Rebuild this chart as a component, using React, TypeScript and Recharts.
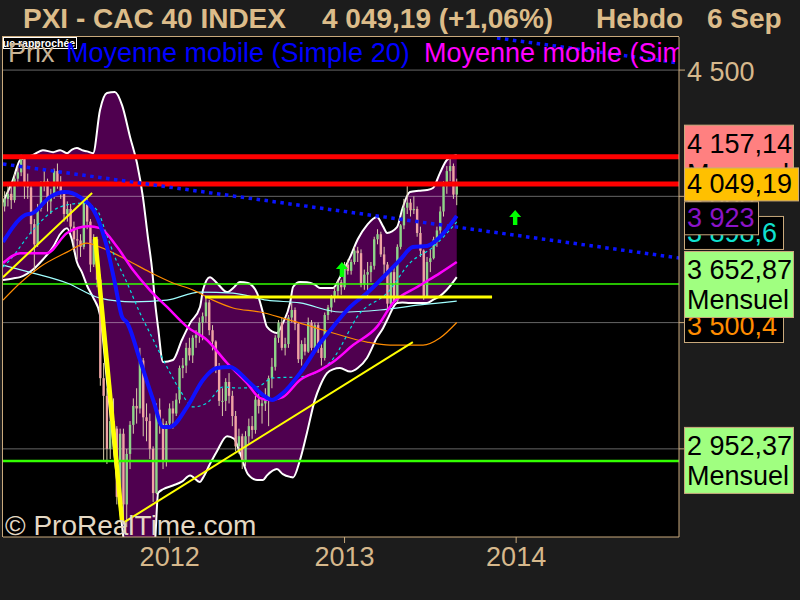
import React from 'react';
import {
  ComposedChart,
  XAxis,
  YAxis,
  Area,
  Line,
  Bar,
  ReferenceLine,
  ReferenceDot,
} from 'recharts';

const TAN = '#c9a97c';
const FONT = "'Liberation Sans', Arial, sans-serif";

// CAC 40 weekly candles [open, high, low, close], first bar = mid-January 2011
const candles = [
  [3960, 4020, 3940, 3990], [3990, 4040, 3960, 4010], [4010, 4050, 3950, 3985], [3985, 4090, 3975, 4070],
  [4070, 4120, 4040, 4095], [4095, 4165, 4080, 4150], [4150, 4160, 3990, 4040], [4040, 4090, 3990, 4035],
  [4035, 4050, 3850, 3890], [3890, 3910, 3700, 3810], [3810, 3970, 3800, 3950], [3950, 4060, 3940, 4040],
  [4040, 4100, 4020, 4060], [4060, 4070, 3940, 3980], [3980, 4030, 3930, 4000], [4000, 4110, 3990, 4100],
  [4100, 4130, 4030, 4050], [4050, 4080, 3990, 4010], [4010, 4020, 3900, 3930], [3930, 3980, 3900, 3950],
  [3950, 3970, 3860, 3880], [3880, 3900, 3780, 3830], [3830, 3870, 3750, 3825], [3825, 3850, 3760, 3800],
  [3800, 3995, 3790, 3980], [3980, 3990, 3870, 3900], [3900, 3910, 3700, 3730], [3730, 3850, 3720, 3830],
  [3830, 3840, 3640, 3670], [3670, 3690, 3250, 3280], [3280, 3340, 2950, 3210], [3210, 3240, 2940, 3000],
  [3000, 3140, 2960, 3110], [3110, 3200, 3050, 3080], [3080, 3090, 2780, 2810], [2810, 3080, 2750, 3060],
  [3060, 3080, 2700, 2780], [2780, 3000, 2690, 2980], [2980, 3110, 2920, 3095], [3095, 3200, 3060, 3170],
  [3170, 3240, 3100, 3160], [3160, 3400, 3140, 3350], [3350, 3360, 3050, 3125], [3125, 3180, 3030, 3110],
  [3110, 3140, 2960, 3000], [3000, 3010, 2790, 2825], [2825, 3180, 2820, 3155], [3155, 3200, 3060, 3100],
  [3100, 3120, 2920, 2950], [2950, 3110, 2930, 3100], [3100, 3180, 3080, 3160], [3160, 3190, 3080, 3140],
  [3140, 3220, 3130, 3195], [3195, 3330, 3180, 3320], [3320, 3360, 3280, 3330], [3330, 3420, 3300, 3400],
  [3400, 3440, 3350, 3370], [3370, 3450, 3340, 3440], [3440, 3470, 3400, 3450], [3450, 3520, 3420, 3500],
  [3500, 3540, 3430, 3525], [3525, 3600, 3500, 3580], [3580, 3590, 3450, 3470], [3470, 3490, 3390, 3425],
  [3425, 3430, 3300, 3320], [3320, 3340, 3170, 3190], [3190, 3240, 3130, 3190], [3190, 3280, 3150, 3265],
  [3265, 3300, 3180, 3210], [3210, 3230, 3090, 3130], [3130, 3150, 2990, 3010], [3010, 3080, 2980, 3050],
  [3050, 3060, 2920, 2950], [2950, 3070, 2930, 3050], [3050, 3120, 3020, 3090], [3090, 3130, 3040, 3075],
  [3075, 3210, 3060, 3195], [3195, 3220, 3140, 3170], [3170, 3200, 3100, 3180], [3180, 3240, 3150, 3195],
  [3195, 3290, 3090, 3280], [3280, 3360, 3240, 3325], [3325, 3450, 3310, 3440], [3440, 3510, 3420, 3500],
  [3500, 3520, 3390, 3400], [3400, 3440, 3370, 3415], [3415, 3530, 3400, 3520], [3520, 3580, 3500, 3550],
  [3550, 3560, 3470, 3495], [3495, 3500, 3340, 3355], [3355, 3430, 3330, 3415], [3415, 3440, 3370, 3385],
  [3385, 3520, 3380, 3500], [3500, 3510, 3390, 3400], [3400, 3500, 3390, 3490], [3490, 3500, 3380, 3400],
  [3400, 3420, 3330, 3360], [3360, 3540, 3350, 3530], [3530, 3570, 3510, 3560], [3560, 3610, 3540, 3600],
  [3600, 3640, 3580, 3625], [3625, 3670, 3600, 3660], [3660, 3670, 3610, 3640], [3640, 3740, 3630, 3730],
  [3730, 3750, 3690, 3705], [3705, 3750, 3690, 3740], [3740, 3800, 3730, 3785], [3785, 3800, 3740, 3775],
  [3775, 3790, 3640, 3650], [3650, 3710, 3630, 3690], [3690, 3740, 3600, 3700], [3700, 3740, 3660, 3725],
  [3725, 3840, 3710, 3830], [3830, 3870, 3810, 3850], [3850, 3860, 3760, 3770], [3770, 3800, 3690, 3730],
  [3730, 3740, 3550, 3575], [3575, 3710, 3570, 3700], [3700, 3720, 3580, 3585], [3585, 3810, 3580, 3800],
  [3800, 3890, 3790, 3885], [3885, 3990, 3870, 3955], [3955, 4045, 3930, 3975], [3975, 3990, 3920, 3945],
  [3945, 4000, 3930, 3950], [3950, 3960, 3840, 3855], [3855, 3880, 3760, 3785], [3785, 3790, 3590, 3605],
  [3605, 3760, 3600, 3740], [3740, 3790, 3700, 3755], [3755, 3840, 3750, 3830], [3830, 3880, 3800, 3865],
  [3865, 3960, 3850, 3940], [3940, 4060, 3920, 4040], [4040, 4120, 4010, 4100], [4100, 4155, 4060, 4120],
  [4120, 4130, 3990, 4007], [4007, 4070, 3965, 4049.19],
];

const yearTicks = [50, 103, 155];
const yearLabels = ['2012', '2013', '2014'];
const priceTicks = [3000, 3500, 4000, 4500];

// Bollinger envelope [bar, lower, upper]
const bollinger = [
  [-0.5, 3669, 3977], [2.5, 3675, 4065], [4.7, 3680, 4144], [8.6, 3710, 4164], [11.6, 3750, 4183],
  [14.7, 3800, 4175], [16.8, 3850, 4183], [18.9, 3874, 4171], [20.4, 3827, 4185], [21.9, 3740, 4191],
  [23.4, 3700, 4183], [25, 3645, 4178], [26.8, 3600, 4171], [28.9, 3530, 4342], [31, 3270, 4409],
  [33.4, 2960, 4413], [35.6, 2691, 4360], [38, 2460, 4235], [40.1, 2380, 4132], [41.9, 2390, 3997],
  [43.4, 2460, 3839], [44.7, 2560, 3708], [45.6, 2639, 3578], [46.5, 2825, 3480], [48, 2840, 3344],
  [51, 2855, 3352], [53.7, 2870, 3431], [56.2, 2895, 3498], [59.2, 2869, 3562], [60.1, 2885, 3629],
  [62.2, 2940, 3680], [64.3, 2990, 3657], [67.4, 3050, 3621], [69.5, 3040, 3640], [71.3, 2984, 3661],
  [73.7, 2900, 3657], [76.5, 2877, 3617], [78.3, 2877, 3538], [79.5, 2895, 3483], [82.5, 2920, 3459],
  [84.3, 2900, 3498], [86.5, 2889, 3578], [87.4, 2887, 3641], [89.5, 2956, 3661], [91.6, 3063, 3660],
  [94, 3194, 3650], [95.6, 3250, 3637], [97.7, 3300, 3637], [99.5, 3315, 3637], [101.6, 3320, 3680],
  [104.7, 3306, 3760], [107, 3320, 3830], [109.8, 3360, 3886], [112.8, 3440, 3918], [114.7, 3479, 3880],
  [115.9, 3510, 3855], [118.9, 3578, 3878], [120.5, 3580, 3950], [122.8, 3578, 4017], [125.5, 3578, 4022],
  [128, 3578, 4025], [129.8, 3590, 4033], [131.9, 3605, 4092], [134, 3630, 4144], [137, 3680, 4164],
];

// moving averages, [bar, value]
const ma20 = [
  [-0.5, 3819], [6.2, 3926], [8.6, 3934], [13.7, 3997], [18.3, 4017], [22.8, 3997], [28, 3918],
  [31, 3799], [33.4, 3657], [35.6, 3522], [37.1, 3500], [41, 3352], [45, 3194], [48, 3087],
  [50.1, 3087], [55.3, 3166], [60.1, 3273], [64.3, 3320], [68.3, 3324], [73.4, 3273], [78.3, 3213],
  [81, 3194], [84.3, 3221], [89.5, 3300], [95.6, 3419], [99.5, 3483], [104.7, 3562], [109.8, 3617],
  [115.9, 3696], [119.8, 3748], [123.7, 3799], [128, 3803], [131.9, 3839], [137, 3923],
];
const ma50 = [
  [-0.5, 3736], [4.7, 3775], [12.8, 3775], [18.9, 3855], [25.3, 3882], [28.9, 3874], [34.1, 3799],
  [38.9, 3708], [44, 3629], [49.2, 3562], [55.3, 3483], [61.3, 3431], [67.4, 3340], [73.4, 3261],
  [77.4, 3201], [80.4, 3194], [84.3, 3205], [89.5, 3273], [95.6, 3312], [99.5, 3344], [105.6, 3411],
  [112.8, 3483], [117.7, 3578], [125, 3641], [131.9, 3696], [137, 3740],
];
const ma30 = [
  [-0.5, 3720], [1.6, 3748], [8.6, 3867], [16.8, 3958], [23.7, 3973], [28, 3946], [30.4, 3867],
  [33.4, 3760], [37.1, 3657], [41, 3538], [44, 3459], [49.2, 3324], [53.1, 3233], [57.1, 3166],
  [61.3, 3182], [66.2, 3245], [71.3, 3241], [76.5, 3245], [81.3, 3281], [89.5, 3285], [94.6, 3304],
  [99.2, 3352], [107.7, 3538], [115.9, 3617], [122.8, 3736], [129.8, 3799], [137, 3898.6],
];
const ma100 = [
  [-0.5, 3589], [4.7, 3657], [10.7, 3720], [18.9, 3779], [24.9, 3815], [28.9, 3799], [37.1, 3748],
  [44, 3700], [51, 3657], [57.1, 3629], [63.1, 3589], [69.2, 3558], [77.4, 3542], [84.3, 3518],
  [89.5, 3498], [99.5, 3459], [109.8, 3423], [116.8, 3411], [126.8, 3411], [131.9, 3439], [137, 3500.4],
];
const ma200 = [
  [-0.5, 3728], [8.6, 3696], [18.9, 3657], [28.9, 3597], [38.9, 3582], [49.2, 3589], [59.2, 3621],
  [69.2, 3617], [79.5, 3589], [89.5, 3578], [101.6, 3542], [113.7, 3550], [125.9, 3570], [137, 3585],
];

const resistances = [4157.14, 4049.19];
const supports = [3652.87, 2952.37];

// hand-drawn studies, [[bar, price], [bar, price]]
const channelLow = [[-0.5, 4128], [204.35, 3756]];
const channelHigh = [[149.2, 4627], [204.35, 4528]];
const riseLeft = [[-0.5, 3680], [26.5, 4013]];
const crashLine = [[27.4, 3839], [35.6, 2710]];
const supportRise = [[35.9, 2707], [123.7, 3423]];
const breakoutLevel = [[60.7, 3601], [147.7, 3601]];
const signalArrows = [[102.2, 3708], [154.7, 3914]];

// right-hand price tags
const tagValues = [4157.14, 4049.19, 3898.6, 3923, 3500.4, 3652.87, 2952.37];
const tagTexts = ['4 157,14', '4 049,19', '3 898,6', '3 923', '3 500,4', '3 652,87', '2 952,37'];
const tagNotes = ['Mensuel', '', '', '', '', 'Mensuel', 'Mensuel'];
const tagLook = [
  { fill: '#ff8080', color: '#000', w: 109, dy: 1 },
  { fill: '#ffc000', color: '#000', w: 114, dy: 0 },
  { fill: '#000', color: '#10e0d0', w: 99, dy: 10.5 },
  { fill: '#000', color: '#8c14c8', w: 74, dy: 2 },
  { fill: '#000', color: '#ff8c00', w: 99, dy: 3 },
  { fill: '#a0ff80', color: '#000', w: 109, dy: 0 },
  { fill: '#a0ff80', color: '#000', w: 109, dy: -1 },
];

const candleRows = candles.map(([o, h, l, c], i) => ({ bar: i, o, h, l, c }));
const bandRows = bollinger.map(([bar, lo, up]) => ({ bar, lo, up }));
const toPts = (pts: number[][]) => pts.map(([bar, v]) => ({ bar, v }));

const maSeries = [
  { name: 'ma200', pts: toPts(ma200), color: '#a0ffff', w: 1.2, dash: undefined },
  { name: 'ma100', pts: toPts(ma100), color: '#ff8c00', w: 1.2, dash: undefined },
  { name: 'ma30', pts: toPts(ma30), color: '#00e0e0', w: 1.2, dash: '3 3' },
  { name: 'ma50', pts: toPts(ma50), color: '#ff00ff', w: 2.5, dash: undefined },
  { name: 'ma20', pts: toPts(ma20), color: '#1010ff', w: 4, dash: undefined },
];

const studies = [
  { seg: channelLow, color: '#0a14ff', w: 3.5, dash: '3.5 4.5' },
  { seg: channelHigh, color: '#0a14ff', w: 3.5, dash: '3.5 4.5' },
  { seg: riseLeft, color: '#ffff00', w: 2, dash: undefined },
  { seg: crashLine, color: '#ffff00', w: 4.5, dash: undefined },
  { seg: supportRise, color: '#ffff00', w: 2, dash: undefined },
  { seg: breakoutLevel, color: '#ffff00', w: 3, dash: undefined },
];

function Candle(props: any) {
  const { x, y, width, height, payload } = props;
  if (!payload) return null;
  const { o, h, l, c } = payload;
  const top = Math.min(y, y + height);
  const span = Math.abs(height);
  const k = h > l ? span / (h - l) : 0;
  const cx = x + width / 2;
  const yo = top + (h - o) * k;
  const yc = top + (h - c) * k;
  const bodyTop = Math.min(yo, yc);
  const bodyH = Math.max(1, Math.abs(yc - yo));
  const up = c >= o;
  return (
    <g>
      <line x1={cx} x2={cx} y1={top} y2={top + span} stroke="#dccdaa" strokeWidth={1} />
      <rect x={cx - 1.2} y={bodyTop} width={2.4} height={bodyH} fill={up ? '#8ed488' : '#efa4a4'} />
    </g>
  );
}

function UpArrow(props: any) {
  const { cx, cy } = props;
  if (cx == null || cy == null) return null;
  const d = `M${cx},${cy - 8} L${cx + 6},${cy - 1} L${cx + 2.2},${cy - 1} L${cx + 2.2},${cy + 7}
    L${cx - 2.2},${cy + 7} L${cx - 2.2},${cy - 1} L${cx - 6},${cy - 1} Z`;
  return <path d={d} fill="#00ff00" />;
}

function PriceTag(props: any) {
  const { viewBox, idx } = props;
  if (!viewBox) return null;
  const look = tagLook[idx];
  const note = tagNotes[idx];
  const h = note ? 66 : 33;
  const top = viewBox.y + look.dy - h / 2;
  const left = viewBox.x + viewBox.width + 5;
  return (
    <g fontFamily={FONT} fontSize={27}>
      <rect x={left + 0.5} y={top + 0.5} width={look.w} height={h} fill={look.fill} stroke={TAN} />
      <text x={left + 3} y={top + (note ? 28 : 26)} fill={look.color}>{tagTexts[idx]}</text>
      {note ? <text x={left + 3} y={top + 58} fill={look.color}>{note}</text> : null}
    </g>
  );
}

function YearTick(props: any) {
  const { x, y, payload } = props;
  const label = yearLabels[yearTicks.indexOf(payload.value)];
  return (
    <text x={x} y={y + 21} textAnchor="middle" fill="#d6b88c" fontSize={27} fontFamily={FONT}>
      {label}
    </text>
  );
}

function PriceTick(props: any) {
  const { x, y, payload } = props;
  return (
    <text x={x} y={y + 11} fill="#d6b88c" fontSize={27} fontFamily={FONT}>
      {payload.value.toLocaleString('fr-FR').replace(/\s/g, ' ')}
    </text>
  );
}

export default function App() {
  return (
    <div style={{ position: 'absolute', left: 0, top: 0, width: 800, height: 600, background: '#1c1c1c', overflow: 'hidden' }}>
      <div
        style={{
          position: 'absolute', left: 2, top: 36, width: 677, height: 501, background: '#000',
          borderLeft: `1px solid ${TAN}`, borderTop: `1px solid ${TAN}`, boxSizing: 'border-box',
        }}
      />
      <div style={{ position: 'absolute', left: 0, top: 0 }}>
        <ComposedChart width={800} height={600} data={candleRows} margin={{ top: 37, right: 0, bottom: 0, left: 3 }}>
          <XAxis
            dataKey="bar" type="number" domain={[-0.5, 204.35]} ticks={yearTicks} allowDataOverflow
            height={63} axisLine={{ stroke: TAN }} tickLine={{ stroke: TAN }} tickSize={6} tick={YearTick}
          />
          <YAxis
            orientation="right" type="number" domain={[2651, 4631]} ticks={priceTicks} allowDataOverflow
            width={121} axisLine={{ stroke: TAN }} tickLine={{ stroke: TAN }} tickSize={6} tick={PriceTick}
          />

          <Area
            data={bandRows} dataKey={(d: any) => [d.lo, d.up]} type="monotone" fill="#4f004f" fillOpacity={1}
            stroke="none" isAnimationActive={false} zIndex={100}
          />
          <Line data={bandRows} dataKey="up" type="monotone" stroke="#ffffff" strokeWidth={2} dot={false} isAnimationActive={false} zIndex={110} />
          <Line data={bandRows} dataKey="lo" type="monotone" stroke="#ffffff" strokeWidth={2} dot={false} isAnimationActive={false} zIndex={110} />

          {priceTicks.map((v) => (
            <ReferenceLine key={`g${v}`} y={v} stroke="#ffffff" strokeOpacity={0.4} strokeWidth={1} zIndex={120} />
          ))}

          <Bar dataKey={(d: any) => [d.l, d.h]} barSize={3} shape={Candle} isAnimationActive={false} zIndex={300} />

          {supports.map((v, i) => (
            <ReferenceLine key={`s${v}`} y={v} stroke="#33ff00" strokeWidth={i === 0 ? 1.5 : 2.5} zIndex={310} />
          ))}

          {maSeries.map((m) => (
            <Line
              key={m.name} data={m.pts} dataKey="v" type="monotone" stroke={m.color} strokeWidth={m.w}
              strokeDasharray={m.dash} dot={false} isAnimationActive={false} zIndex={400}
            />
          ))}

          {resistances.map((v) => (
            <ReferenceLine key={`r${v}`} y={v} stroke="#ff0000" strokeWidth={5} zIndex={450} />
          ))}

          {studies.map((s, i) => (
            <ReferenceLine
              key={`t${i}`} ifOverflow="hidden"
              segment={[{ x: s.seg[0][0], y: s.seg[0][1] }, { x: s.seg[1][0], y: s.seg[1][1] }]}
              stroke={s.color} strokeWidth={s.w} strokeDasharray={s.dash} zIndex={460}
            />
          ))}

          {signalArrows.map(([bar, price], i) => (
            <ReferenceDot key={`a${i}`} x={bar} y={price} r={8} shape={UpArrow} zIndex={470} />
          ))}

          {tagValues.map((v, i) => (
            <ReferenceLine key={`tag${i}`} y={v} stroke="none" label={<PriceTag idx={i} />} zIndex={2000} />
          ))}
        </ComposedChart>
      </div>

      <svg width={800} height={600} style={{ position: 'absolute', left: 0, top: 0, pointerEvents: 'none' }}>
        <defs>
          <clipPath id="legendClip">
            <rect x={3} y={37} width={676} height={33} />
          </clipPath>
          <clipPath id="zoomBoxClip">
            <rect x={3} y={37} width={74} height={12} />
          </clipPath>
        </defs>
        <g fontFamily={FONT} fontWeight="bold" fontSize={28} fill="#dcbc8a">
          <text x={23} y={28}>PXI - CAC 40 INDEX</text>
          <text x={322} y={28}>4 049,19 (+1,06%)</text>
          <text x={596} y={28}>Hebdo</text>
          <text x={707} y={28}>6 Sep</text>
        </g>
        <rect x={3.5} y={37.5} width={73} height={11} fill="#000" stroke="#ffffff" />
        <text x={-3} y={47} fontFamily={FONT} fontWeight="bold" fontSize={10.5} fill="#ffffff" clipPath="url(#zoomBoxClip)">
          vue rapprochée
        </text>
        <g clipPath="url(#legendClip)" fontFamily={FONT} fontSize={27}>
          <text x={8} y={62} fill="#c8b496">Prix</text>
          <text x={66} y={62} fill="#0000ff">Moyenne mobile (Simple 20)</text>
          <text x={424} y={62} fill="#ff00ff">Moyenne mobile (Simple 50)</text>
        </g>
        <text x={5} y={535} fontFamily={FONT} fontSize={28} fill="#e4d8c4">© ProRealTime.com</text>
      </svg>
    </div>
  );
}
